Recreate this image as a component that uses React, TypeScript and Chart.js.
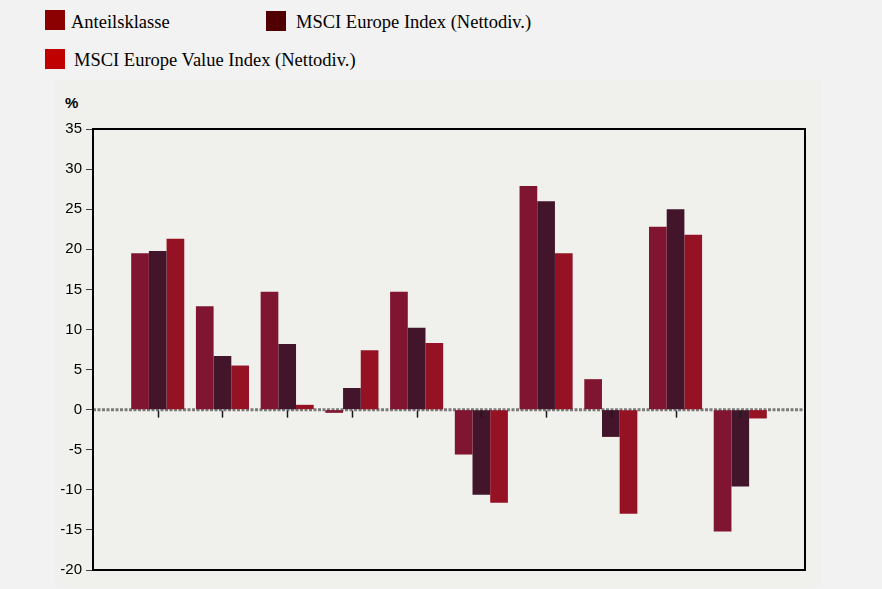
import React, { useEffect, useRef } from "react";
import { Chart, registerables } from "chart.js";

Chart.register(...registerables);

// categories (hidden on the axis); padded with empty end slots
const categories = ["1", "2", "3", "4", "5", "6", "7", "8", "9", "10"];
const anteilsklasse = [19.5, 12.9, 14.7, -0.4, 14.7, -5.6, 27.9, 3.8, 22.8, -15.2];
const msciEurope = [19.8, 6.7, 8.2, 2.7, 10.2, -10.6, 26.0, -3.4, 25.0, -9.6];
const msciEuropeValue = [21.3, 5.5, 0.6, 7.4, 8.3, -11.6, 19.5, -13.0, 21.8, -1.1];
const yMin = -20;
const yMax = 35;
const yStep = 5;

const legendItems = [
  { label: "Anteilsklasse", color: "#8b0000" },
  { label: "MSCI Europe Index (Nettodiv.)", color: "#500000" },
  { label: "MSCI Europe Value Index (Nettodiv.)", color: "#c00000" },
];
const barColors = ["#7f1531", "#42152a", "#951224"];

const pad = (arr: number[]) => [null, ...arr, null];

const framePlugin = {
  id: "frameAndZero",
  beforeDatasetsDraw(chart: any) {
    const { ctx, chartArea, scales } = chart;
    const y0 = scales.y.getPixelForValue(0);
    ctx.save();
    ctx.strokeStyle = "#7a7a7a";
    ctx.lineWidth = 3;
    ctx.setLineDash([3, 1.5]);
    ctx.beginPath();
    ctx.moveTo(chartArea.left, y0);
    ctx.lineTo(chartArea.right, y0);
    ctx.stroke();
    ctx.restore();
  },
  afterDatasetsDraw(chart: any) {
    const { ctx, chartArea, scales } = chart;
    const y0 = scales.y.getPixelForValue(0);
    ctx.save();
    ctx.strokeStyle = "#1a1a1a";
    ctx.lineWidth = 1.5;
    for (let i = 1; i <= categories.length; i++) {
      const x = Math.round(scales.x.getPixelForValue(i)) + 0.5;
      ctx.beginPath();
      ctx.moveTo(x, y0 + 1);
      ctx.lineTo(x, y0 + 8);
      ctx.stroke();
    }
    ctx.strokeStyle = "#000";
    ctx.lineWidth = 2;
    ctx.strokeRect(chartArea.left, chartArea.top, chartArea.right - chartArea.left, chartArea.bottom - chartArea.top);
    ctx.restore();
  },
};

export default function App() {
  const ref = useRef<HTMLCanvasElement | null>(null);
  useEffect(() => {
    document.body.style.margin = "0";
    if (!ref.current) return;
    const chart = new Chart(ref.current, {
      type: "bar",
      data: {
        labels: ["", ...categories, ""],
        datasets: [
          { label: legendItems[0].label, data: pad(anteilsklasse), backgroundColor: barColors[0] },
          { label: legendItems[1].label, data: pad(msciEurope), backgroundColor: barColors[1] },
          { label: legendItems[2].label, data: pad(msciEuropeValue), backgroundColor: barColors[2] },
        ] as any,
      },
      options: {
        animation: false,
        responsive: false,
        maintainAspectRatio: false,
        layout: { padding: { left: 0, top: 129, right: 77, bottom: 19 } },
        datasets: { bar: { categoryPercentage: 0.82, barPercentage: 1.0 } },
        plugins: { legend: { display: false }, tooltip: { enabled: false } },
        scales: {
          x: { display: false, offset: false },
          y: {
            min: yMin,
            max: yMax,
            afterFit: (s: any) => {
              s.width = 93;
            },
            ticks: {
              stepSize: yStep,
              color: "#000",
              padding: 4,
              font: { family: "'Liberation Sans', Arial, sans-serif", size: 15 },
            },
            grid: { drawOnChartArea: false, drawTicks: true, tickLength: 7, color: "#444" },
            border: { display: false },
          },
        },
      },
      plugins: [framePlugin],
    });
    return () => chart.destroy();
  }, []);

  const legendText: React.CSSProperties = {
    position: "absolute",
    fontFamily: "'Liberation Serif', 'Times New Roman', serif",
    fontSize: 18.5,
    lineHeight: "18.5px",
    color: "#000",
    whiteSpace: "nowrap",
  };

  return (
    <div style={{ position: "fixed", left: 0, top: 0, width: 882, height: 589, background: "#f2f2f2", overflow: "hidden" }}>
      <div style={{ position: "absolute", left: 55, top: 79, width: 767, height: 508, background: "#f0f0ec" }} />
      <div style={{ position: "absolute", left: 45, top: 10, width: 20, height: 20, background: legendItems[0].color }} />
      <div style={{ ...legendText, left: 71, top: 13 }}>{legendItems[0].label}</div>
      <div style={{ position: "absolute", left: 266, top: 11, width: 20, height: 20, background: legendItems[1].color }} />
      <div style={{ ...legendText, left: 296, top: 13 }}>{legendItems[1].label}</div>
      <div style={{ position: "absolute", left: 45, top: 49, width: 20, height: 20, background: legendItems[2].color }} />
      <div style={{ ...legendText, left: 74, top: 51 }}>{legendItems[2].label}</div>
      <div style={{ position: "absolute", left: 65, top: 94, fontFamily: "'Liberation Sans', Arial, sans-serif", fontWeight: "bold", fontSize: 15, color: "#000" }}>%</div>
      <canvas ref={ref} width={882} height={589} style={{ position: "absolute", left: 0, top: 0, width: 882, height: 589 }} />
    </div>
  );
}
